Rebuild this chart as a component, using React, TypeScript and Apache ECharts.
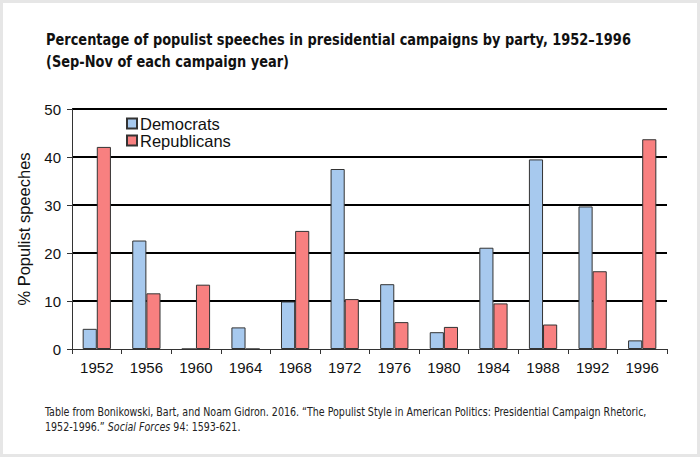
import React, { useEffect, useRef } from "react";
import * as echarts from "echarts";

// Campaign years and share of populist speeches (%) per party
const years = ["1952", "1956", "1960", "1964", "1968", "1972", "1976", "1980", "1984", "1988", "1992", "1996"];
const democrats = [4.2, 22.6, 0, 4.5, 9.9, 37.5, 13.5, 3.5, 21.1, 39.5, 29.7, 1.8];
const republicans = [42.1, 11.6, 13.4, 0, 24.6, 10.4, 5.6, 4.6, 9.5, 5.1, 16.2, 43.7];

const titleText =
  "Percentage of populist speeches in presidential campaigns by party, 1952–1996\n(Sep-Nov of each campaign year)";
const sourceText =
  "Table from Bonikowski, Bart, and Noam Gidron. 2016. “The Populist Style in American Politics: Presidential Campaign Rhetoric,\n1952-1996.” {i|Social Forces} 94: 1593-621.";

const SANS = "'Liberation Sans', Arial, sans-serif";
const NARROW = "'DejaVu Sans Condensed', 'DejaVu Sans', sans-serif";

export default function App() {
  const ref = useRef<HTMLDivElement>(null);

  useEffect(() => {
    if (!ref.current) return;
    const chart = echarts.init(ref.current, undefined, { renderer: "svg" });
    chart.setOption({
      animation: false,
      backgroundColor: "#ffffff",
      legend: {
        orient: "vertical",
        left: 121,
        top: 110,
        padding: 5,
        itemWidth: 10,
        itemHeight: 10,
        itemGap: 0,
        icon: "rect",
        textStyle: {
          fontFamily: SANS,
          fontSize: 16.5,
          lineHeight: 17,
          color: "#111",
          padding: [0, 0, 0, -2],
        },
        data: ["Democrats", "Republicans"],
      },
      grid: { left: 72, right: 33, top: 109, bottom: 108, containLabel: false },
      xAxis: {
        type: "category",
        data: years,
        boundaryGap: true,
        axisLine: { show: true, lineStyle: { color: "#333", width: 1 } },
        axisTick: { show: true, length: 5, alignWithLabel: false, lineStyle: { color: "#333" } },
        axisLabel: { fontFamily: SANS, fontSize: 15, color: "#111", margin: 11 },
      },
      yAxis: {
        type: "value",
        min: 0,
        max: 50,
        interval: 10,
        name: "% Populist speeches",
        nameLocation: "middle",
        nameGap: 40,
        nameTextStyle: { fontFamily: SANS, fontSize: 16.5, color: "#111" },
        axisLine: { show: true, lineStyle: { color: "#333", width: 1 } },
        axisTick: { show: true, length: 5, lineStyle: { color: "#333" } },
        axisLabel: { fontFamily: SANS, fontSize: 15, color: "#111", margin: 11 },
        splitLine: { show: true, showMinLine: false, lineStyle: { color: "#000", width: 2 } },
      },
      series: [
        {
          name: "Democrats",
          type: "bar",
          data: democrats,
          barGap: "0%",
          barCategoryGap: "43%",
          itemStyle: { color: "#a7c9ee", borderColor: "#333", borderWidth: 1 },
        },
        {
          name: "Republicans",
          type: "bar",
          data: republicans,
          barGap: "0%",
          barCategoryGap: "43%",
          itemStyle: { color: "#f88080", borderColor: "#333", borderWidth: 1 },
        },
      ],
      graphic: [
        {
          type: "text",
          x: 46,
          y: 29,
          scaleX: 0.9,
          style: {
            text: titleText,
            fontFamily: NARROW,
            fontWeight: "bold",
            fontSize: 16,
            lineHeight: 22,
            fill: "#111",
            textVerticalAlign: "top",
          },
        },
        {
          type: "text",
          x: 45,
          y: 405,
          scaleX: 0.92,
          style: {
            text: sourceText,
            fontFamily: NARROW,
            fontSize: 11.5,
            lineHeight: 15,
            fill: "#222",
            textVerticalAlign: "top",
            rich: {
              i: { fontFamily: NARROW, fontSize: 11.5, fontStyle: "italic", fill: "#222" },
            },
          },
        },
      ],
    });
    return () => chart.dispose();
  }, []);

  return (
    <div style={{ position: "absolute", left: 0, top: 0, width: 700, height: 457, background: "#fff" }}>
      <div ref={ref} style={{ position: "absolute", left: 0, top: 0, width: 700, height: 457 }} />
      <div
        style={{
          position: "absolute",
          left: 0,
          top: 0,
          width: 700,
          height: 457,
          boxSizing: "border-box",
          border: "3px solid #e6e6e6",
          pointerEvents: "none",
        }}
      />
    </div>
  );
}
